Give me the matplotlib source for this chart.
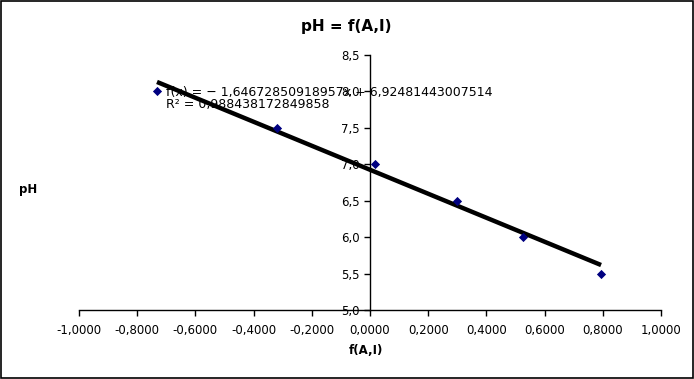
import matplotlib
matplotlib.use("Agg")
import matplotlib.pyplot as plt
from matplotlib.ticker import FuncFormatter, MultipleLocator
from matplotlib.patches import Rectangle
import numpy as np

# data
f_AI = [-0.732, -0.320, 0.017, 0.299, 0.526, 0.794]
pH = [8.0, 7.5, 7.0, 6.5, 6.0, 5.5]
slope = -1.64672850918957
intercept = 6.92481443007514
eq_text = "f(x) = − 1,64672850918957x + 6,92481443007514\nR² = 0,988438172849858"

fig = plt.figure(figsize=(6.94, 3.79), dpi=100)
ax = fig.add_axes([79 / 694, 69 / 379, 582 / 694, 255 / 379])

# trendline from the fitted coefficients
xl = np.array([min(f_AI), max(f_AI)])
ax.plot(xl, slope * xl + intercept, color="black", lw=3.2, solid_capstyle="butt", zorder=2)
ax.scatter(f_AI, pH, marker="D", s=22, color="#000080", zorder=3, linewidths=0)

ax.set_xlim(-1, 1)
ax.set_ylim(5, 8.5)
ax.xaxis.set_major_locator(MultipleLocator(0.2))
ax.yaxis.set_major_locator(MultipleLocator(0.5))
ax.xaxis.set_major_formatter(FuncFormatter(lambda v, p: f"{v:.4f}".replace(".", ",").replace("-0,0000", "0,0000")))
ax.yaxis.set_major_formatter(FuncFormatter(lambda v, p: f"{v:.1f}".replace(".", ",")))

for s in ["top", "right"]:
    ax.spines[s].set_visible(False)
ax.spines["left"].set_position(("data", 0))
ax.spines["left"].set_linewidth(1)
ax.spines["bottom"].set_linewidth(1)
ax.tick_params(direction="out", length=4, width=1, labelsize=8.5, colors="black")
ax.tick_params(axis="x", pad=6)

# equation label sits under the trendline, like the original
ax.text(-0.70, 7.90, eq_text, fontsize=9, va="center", ha="left", linespacing=0.95, zorder=1)

fig.text(346 / 694, 1 - 27 / 379, "pH = f(A,I)", ha="center", va="center", fontsize=11, fontweight="bold")
fig.text(366 / 694, 1 - 350 / 379, "f(A,I)", ha="center", va="center", fontsize=8.5, fontweight="bold")
fig.text(28 / 694, 1 - 190 / 379, "pH", ha="center", va="center", fontsize=8.5, fontweight="bold")

fig.patches.append(Rectangle((0.0015, 0.0025), 0.997, 0.995, transform=fig.transFigure,
                             fill=False, edgecolor="black", lw=1.2))

fig.savefig("out.png", dpi=100)
